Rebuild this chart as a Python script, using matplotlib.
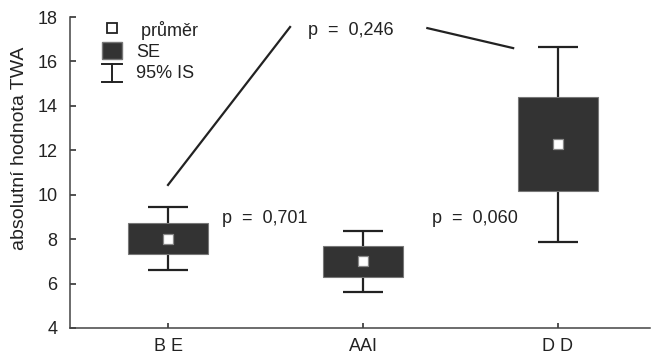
import matplotlib
matplotlib.use("Agg")
import matplotlib.pyplot as plt
import numpy as np
from matplotlib.patches import Patch, Rectangle
from matplotlib.lines import Line2D
from matplotlib.legend_handler import HandlerBase, HandlerPatch

plt.rcParams['font.family'] = ['Liberation Sans', 'DejaVu Sans']
plt.rcParams['font.size'] = 13

categories = ["B E", "AAI", "D D"]
means = [8.0, 7.0, 12.27]
se_low = [7.33, 6.31, 10.17]
se_high = [8.74, 7.69, 14.38]
ci_low = [6.62, 5.63, 7.88]
ci_high = [9.46, 8.38, 16.66]

p_labels = ["p  =  0,701", "p  =  0,060", "p  =  0,246"]
p_pos_x = [0.277, 1.354, 0.718]
p_pos_y = [8.72, 8.72, 17.19]
link1_x = [0.0, 0.626]
link1_y = [10.44, 17.55]
link2_x = [1.33, 1.77]
link2_y = [17.5, 16.6]

dark = '#333333'
ink = '#222222'

fig = plt.figure(figsize=(6.52, 3.59), dpi=100)
ax = fig.add_axes([70/652, 31/359, 580/652, 311/359])

x = np.arange(len(categories))
ax.bar(x, np.array(se_high) - np.array(se_low), bottom=se_low, width=0.41,
       color=dark, edgecolor='#777777', linewidth=0.8, zorder=2)
ax.vlines(x, ci_low, se_low, color=ink, lw=1.6, zorder=1)
ax.vlines(x, se_high, ci_high, color=ink, lw=1.6, zorder=1)
ax.hlines(ci_low, x - 0.105, x + 0.105, color=ink, lw=1.6)
ax.hlines(ci_high, x - 0.105, x + 0.105, color=ink, lw=1.6)
ax.scatter(x, means, marker='s', s=45, color='white', edgecolors='#888888',
           linewidths=0.9, zorder=3)

ax.plot(link1_x, link1_y, color=ink, lw=1.6)
ax.plot(link2_x, link2_y, color=ink, lw=1.6)
for t, px, py in zip(p_labels, p_pos_x, p_pos_y):
    ax.text(px, py, t, ha='left', va='baseline', fontsize=13, color=ink)

ax.set_xlim(-98/195, 482/195)
ax.set_ylim(4, 18)
ax.set_yticks([4, 6, 8, 10, 12, 14, 16, 18])
ax.set_xticks(x)
ax.set_xticklabels(categories, fontsize=13)
ax.tick_params(axis='y', labelsize=13, direction='in', length=4.5, width=1.1,
               colors=ink, pad=9)
ax.tick_params(axis='x', labelsize=13, direction='in', length=3.5, width=1.1,
               colors=ink, pad=7)
for s in ['top', 'right']:
    ax.spines[s].set_visible(False)
for s in ['left', 'bottom']:
    ax.spines[s].set_color('#444444')
    ax.spines[s].set_linewidth(1.1)
ax.set_ylabel("absolutní hodnota TWA", fontsize=14, color=ink)
ax.yaxis.set_label_coords(-0.073, 0.579)


class HandlerCI(HandlerBase):
    def create_artists(self, legend, orig_handle, xdescent, ydescent, width,
                       height, fontsize, trans):
        x0, x1 = -xdescent, width - xdescent
        y0, y1 = -ydescent, height - ydescent - 1.0
        cx = (x0 + x1) / 2
        l1 = Line2D([cx, cx], [y0, y1], color=ink, lw=1.4, transform=trans)
        l2 = Line2D([x0, x1], [y1, y1], color=ink, lw=1.4, transform=trans)
        l3 = Line2D([x0, x1], [y0, y0], color=ink, lw=1.4, transform=trans)
        return [l1, l2, l3]


def se_patch(legend, orig_handle, xdescent, ydescent, width, height, fontsize):
    return Rectangle((-xdescent, -ydescent + 0.8), width, height - 0.8)


class CIHandle:
    pass


h_mean = Line2D([], [], marker='s', ls='none', mfc='white', mec=ink, ms=6.5, mew=1.3)
h_se = Patch(facecolor=dark, edgecolor='#777777')
h_ci = CIHandle()
leg = ax.legend([h_mean, h_se, h_ci], [" průměr", "SE", "95% IS"],
                handler_map={CIHandle: HandlerCI(),
                             Patch: HandlerPatch(patch_func=se_patch)},
                loc='upper left', bbox_to_anchor=(0.055, 0.988), frameon=False,
                fontsize=13, handlelength=1.1, handleheight=1.2,
                handletextpad=0.78, labelspacing=0.1, borderpad=0.0,
                borderaxespad=0.0)
for t in leg.get_texts():
    t.set_color(ink)

fig.savefig("out.png", dpi=100)
